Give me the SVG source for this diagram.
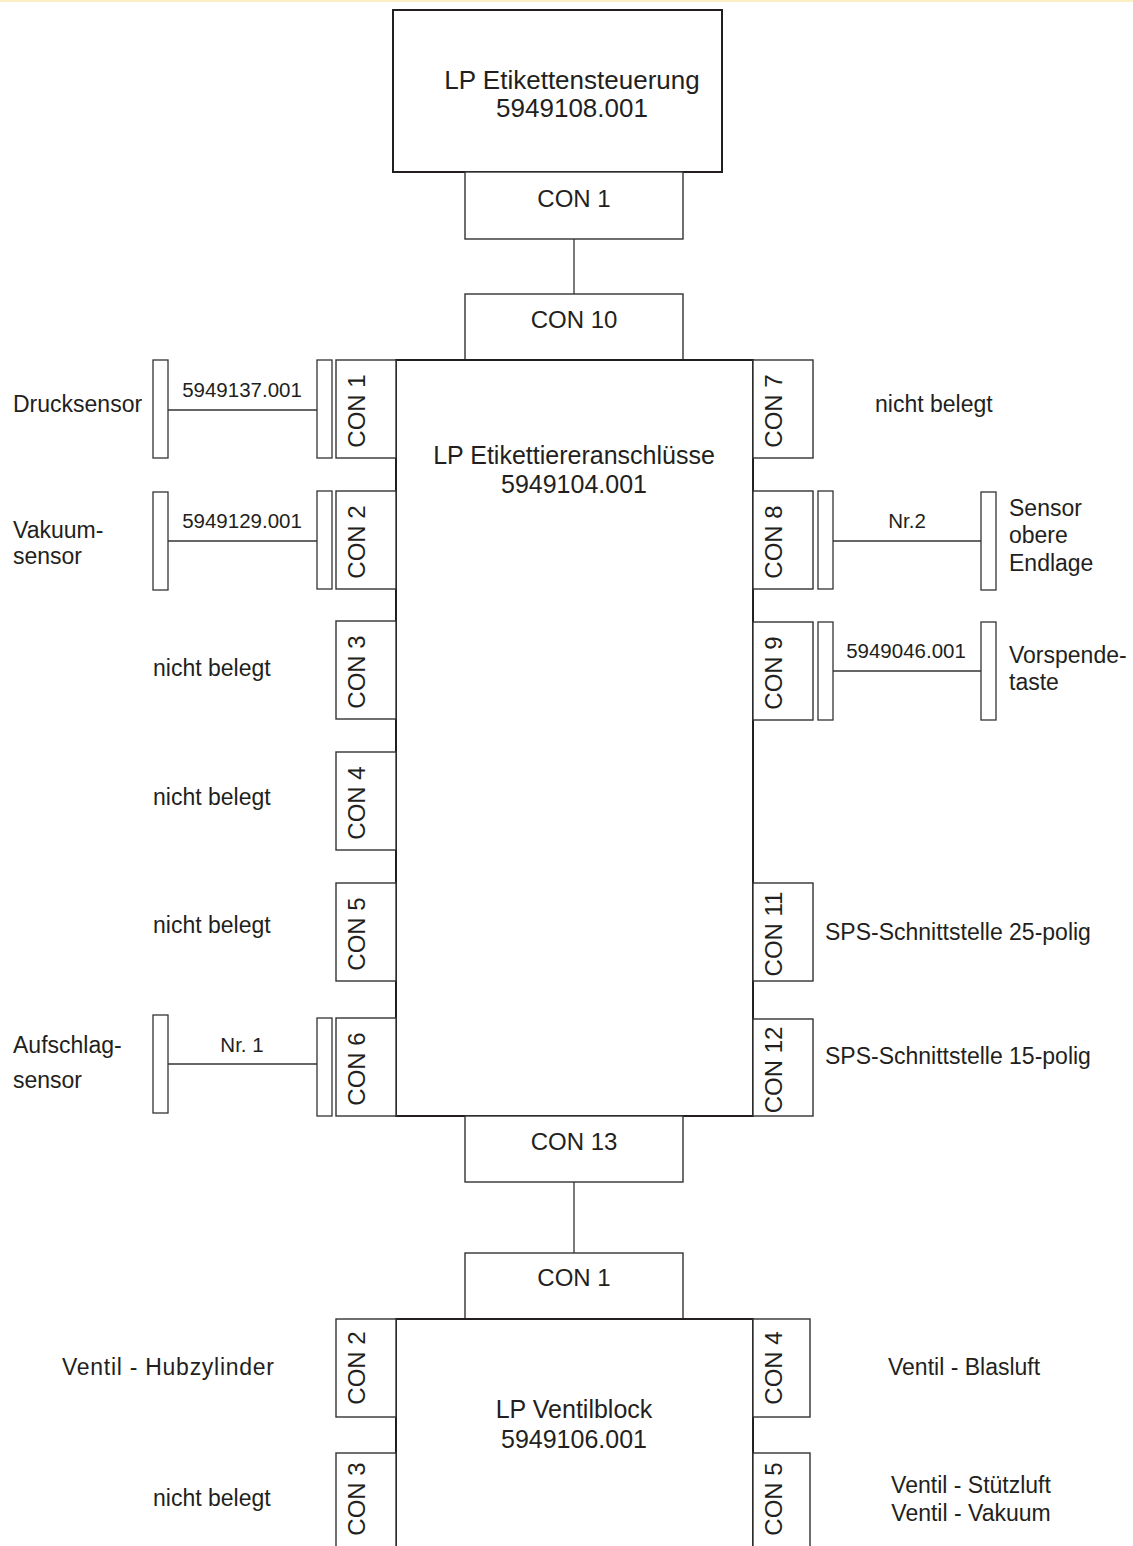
<svg xmlns="http://www.w3.org/2000/svg" width="1133" height="1546" viewBox="0 0 1133 1546">
<style>
text{font-family:"Liberation Sans",Arial,sans-serif;fill:#231f20}
.t{font-size:25px;text-anchor:middle}
.tt{font-size:26px;text-anchor:middle}
.c{font-size:24px;text-anchor:middle}
.l{font-size:23px}
.lm{font-size:23px;text-anchor:middle}
.s{font-size:20.5px;text-anchor:middle}
.main{fill:#fff;stroke:#231f20;stroke-width:2}
.box{fill:#fff;stroke:#333;stroke-width:1.4}
.bar{fill:#fff;stroke:#333;stroke-width:1.3}
.wire{stroke:#333;stroke-width:1.3;fill:none}
</style>
<rect x="0" y="0" width="1133" height="1546" fill="#fff"/>
<rect x="0" y="0" width="1133" height="2" fill="#fcefc4"/>

<g id="connectors">
<line class="wire" x1="574" y1="239" x2="574" y2="294"/>
<line class="wire" x1="574" y1="1182" x2="574" y2="1253"/>
<line class="wire" x1="168" y1="410" x2="317" y2="410"/>
<line class="wire" x1="168" y1="541" x2="317" y2="541"/>
<line class="wire" x1="168" y1="1064" x2="317" y2="1064"/>
<line class="wire" x1="833" y1="541" x2="981" y2="541"/>
<line class="wire" x1="833" y1="671" x2="981" y2="671"/>
<text class="s" x="242" y="397">5949137.001</text>
<text class="s" x="242" y="528">5949129.001</text>
<text class="s" x="242" y="1052">Nr. 1</text>
<text class="s" x="907" y="528">Nr.2</text>
<text class="s" x="906" y="658">5949046.001</text>
</g>

<g id="lp-etikettensteuerung">
<rect class="main" x="393" y="10" width="329" height="162"/>
<text class="tt" x="572" y="89">LP Etikettensteuerung</text>
<text class="tt" x="572" y="117">5949108.001</text>
</g>
<g id="top-con1">
<rect class="box" x="465" y="172" width="218" height="67"/>
<text class="c" x="574" y="207">CON 1</text>
</g>
<g id="con10">
<rect class="box" x="465" y="294" width="218" height="66"/>
<text class="c" x="574" y="328">CON 10</text>
</g>

<g id="lp-etikettiereranschluesse">
<rect class="main" x="396" y="360" width="357" height="756"/>
<text class="t" x="574" y="464">LP Etikettiereranschlüsse</text>
<text class="t" x="574" y="493">5949104.001</text>
</g>

<g id="left-cons">
<rect class="box" x="336" y="360" width="60" height="98"/>
<text class="c" transform="translate(365,411) rotate(-90)">CON 1</text>
<rect class="box" x="336" y="491" width="60" height="98"/>
<text class="c" transform="translate(365,542) rotate(-90)">CON 2</text>
<rect class="box" x="336" y="621" width="60" height="98"/>
<text class="c" transform="translate(365,672) rotate(-90)">CON 3</text>
<rect class="box" x="336" y="752" width="60" height="98"/>
<text class="c" transform="translate(365,803) rotate(-90)">CON 4</text>
<rect class="box" x="336" y="883" width="60" height="98"/>
<text class="c" transform="translate(365,934) rotate(-90)">CON 5</text>
<rect class="box" x="336" y="1018" width="60" height="98"/>
<text class="c" transform="translate(365,1069) rotate(-90)">CON 6</text>
</g>

<g id="right-cons">
<rect class="box" x="753" y="360" width="60" height="98"/>
<text class="c" transform="translate(782,411) rotate(-90)">CON 7</text>
<rect class="box" x="753" y="491" width="60" height="98"/>
<text class="c" transform="translate(782,542) rotate(-90)">CON 8</text>
<rect class="box" x="753" y="622" width="60" height="98"/>
<text class="c" transform="translate(782,673) rotate(-90)">CON 9</text>
<rect class="box" x="753" y="883" width="60" height="98"/>
<text class="c" transform="translate(782,934) rotate(-90)">CON 11</text>
<rect class="box" x="753" y="1019" width="60" height="97"/>
<text class="c" transform="translate(782,1070) rotate(-90)">CON 12</text>
</g>

<g id="drucksensor">
<rect class="bar" x="153" y="360" width="15" height="98"/>
<rect class="bar" x="317" y="360" width="15" height="98"/>
<text class="l" x="13" y="412">Drucksensor</text>
</g>
<g id="vakuumsensor">
<rect class="bar" x="153" y="492" width="15" height="98"/>
<rect class="bar" x="317" y="491" width="15" height="98"/>
<text class="l" x="13" y="538">Vakuum-</text>
<text class="l" x="13" y="564">sensor</text>
</g>
<g id="left-free">
<text class="l" x="153" y="676">nicht belegt</text>
<text class="l" x="153" y="805">nicht belegt</text>
<text class="l" x="153" y="933">nicht belegt</text>
</g>
<g id="aufschlagsensor">
<rect class="bar" x="153" y="1015" width="15" height="98"/>
<rect class="bar" x="317" y="1018" width="15" height="98"/>
<text class="l" x="13" y="1053">Aufschlag-</text>
<text class="l" x="13" y="1088">sensor</text>
</g>
<g id="right-free">
<text class="l" x="875" y="412">nicht belegt</text>
</g>
<g id="sensor-obere-endlage">
<rect class="bar" x="818" y="491" width="15" height="98"/>
<rect class="bar" x="981" y="492" width="15" height="98"/>
<text class="l" x="1009" y="516">Sensor</text>
<text class="l" x="1009" y="543">obere</text>
<text class="l" x="1009" y="571">Endlage</text>
</g>
<g id="vorspendetaste">
<rect class="bar" x="818" y="622" width="15" height="98"/>
<rect class="bar" x="981" y="622" width="15" height="98"/>
<text class="l" x="1009" y="663">Vorspende-</text>
<text class="l" x="1009" y="690">taste</text>
</g>
<g id="sps">
<text class="l" x="825" y="940">SPS-Schnittstelle 25-polig</text>
<text class="l" x="825" y="1064">SPS-Schnittstelle 15-polig</text>
</g>

<g id="con13">
<rect class="box" x="465" y="1116" width="218" height="66"/>
<text class="c" x="574" y="1150">CON 13</text>
</g>
<g id="ventil-con1">
<rect class="box" x="465" y="1253" width="218" height="66"/>
<text class="c" x="574" y="1286">CON 1</text>
</g>
<g id="lp-ventilblock">
<rect class="main" x="396" y="1319" width="357" height="240"/>
<text class="t" x="574" y="1418">LP Ventilblock</text>
<text class="t" x="574" y="1448">5949106.001</text>
</g>
<g id="ventil-cons">
<rect class="box" x="336" y="1319" width="60" height="98"/>
<text class="c" transform="translate(365,1368) rotate(-90)">CON 2</text>
<rect class="box" x="336" y="1453" width="60" height="110"/>
<text class="c" transform="translate(365,1499) rotate(-90)">CON 3</text>
<rect class="box" x="753" y="1319" width="57" height="98"/>
<text class="c" transform="translate(782,1368) rotate(-90)">CON 4</text>
<rect class="box" x="753" y="1453" width="57" height="110"/>
<text class="c" transform="translate(782,1499) rotate(-90)">CON 5</text>
</g>
<g id="ventil-labels">
<text class="l" x="62" y="1375" textLength="212" lengthAdjust="spacing">Ventil - Hubzylinder</text>
<text class="l" x="153" y="1506">nicht belegt</text>
<text class="l" x="888" y="1375">Ventil - Blasluft</text>
<text class="lm" x="971" y="1493">Ventil - Stützluft</text>
<text class="lm" x="971" y="1521">Ventil - Vakuum</text>
</g>
</svg>
